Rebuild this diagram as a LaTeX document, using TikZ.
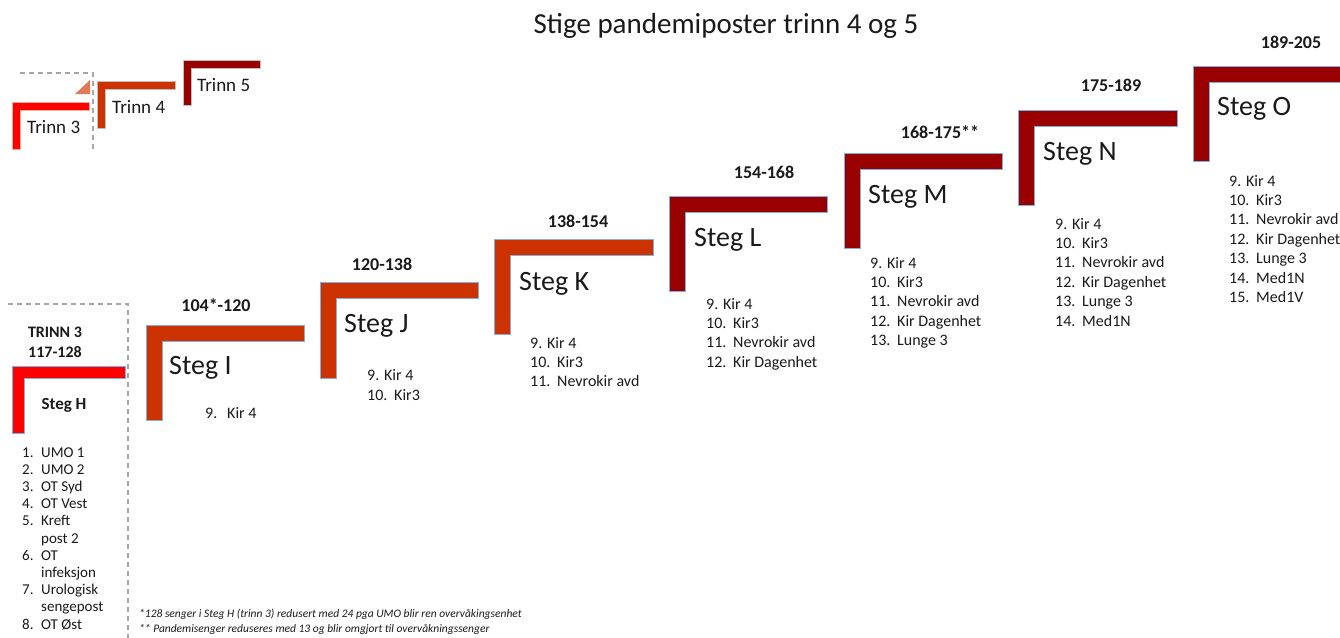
\documentclass[tikz,border=0pt]{standalone}
\usepackage{fontspec}
\setmainfont{Carlito}
\definecolor{stred}{HTML}{FF0000}
\definecolor{storange}{HTML}{CC3300}
\definecolor{stdark}{HTML}{990000}
\definecolor{edgeblue}{HTML}{7DB0E0}
\definecolor{dashgray}{HTML}{A6A6A6}
\definecolor{salmon}{HTML}{E07B54}
\definecolor{txt}{HTML}{1A1A1A}
\newcommand\drawsteg[7]{% x y w h t fill draw
  \draw[stepshape={#6}{#7}] (#1,#2) -- ++(#3,0) -- ++(0,#5) -- ++({-(#3)+(#5)},0) -- ++(0,{(#4)-(#5)}) -- ++({-(#5)},0) -- cycle;}
\newcommand\nnum[1]{\makebox[27pt][l]{#1}}
\begin{document}
\begin{tikzpicture}[x=1pt,y=-1pt,
  stepshape/.style 2 args={fill=#1, draw=#2, line width=0.8pt},
  dashline/.style={draw=dashgray, line width=1.2pt, dash pattern=on 5pt off 4pt},
  rng/.style={font=\fontsize{18}{21}\selectfont\bfseries, anchor=base, inner sep=0, text=txt},
  steglbl/.style={font=\fontsize{28}{32}\selectfont, anchor=base west, inner sep=0, text=txt},
  lst/.style={font=\fontsize{16}{19.4}\selectfont, anchor=base west, inner sep=0, text=txt},
  leg/.style={font=\fontsize{19}{22}\selectfont, anchor=base west, inner sep=0, text=txt}]
\useasboundingbox (0,0) rectangle (1340,637);
\fill[white] (0,0) rectangle (1340,637);

% title
\node[font=\fontsize{29}{33}\selectfont, anchor=base, inner sep=0, text=txt] (title) at (726,33) {Stige pandemiposter trinn 4 og 5};

% legend
\draw[dashline] (20,73) -- (93,73) -- (93,152);
\fill[salmon] (75,94) -- (90,94) -- (90,80) -- cycle;
\drawsteg{12}{102}{77}{47}{8}{stred}{salmon!60}
\drawsteg{97}{81}{78}{47}{8}{storange}{gray!50}
\drawsteg{183}{60}{77}{45}{8}{stdark}{gray!50}
\node[leg] (t3) at (27,133) {Trinn 3};
\node[leg] (t4) at (112,113) {Trinn 4};
\node[leg] (t5) at (197,91) {Trinn 5};

% Steg H block
\draw[dashline] (8,304) -- (128,304) -- (128,640);
\node[font=\fontsize{16}{20}\selectfont\bfseries, anchor=base, inner sep=0, text=txt] (trinn3) at (55,337)
  {\begin{tabular}[t]{@{}c@{}}TRINN 3\\117-128\end{tabular}};
\drawsteg{12}{366}{113}{67}{12}{stred}{edgeblue}
\node[font=\fontsize{17}{20}\selectfont\bfseries, anchor=base, inner sep=0, text=txt] (stegH) at (64,409) {Steg H};
\node[font=\fontsize{15}{17.2}\selectfont, anchor=base west, inner sep=0, text=txt] (listH) at (22,457)
  {\begin{tabular}[t]{@{}p{19pt}@{}l@{}}
   1. & UMO 1\\ 2. & UMO 2\\ 3. & OT Syd\\ 4. & OT Vest\\ 5. & Kreft\\ & post 2\\
   6. & OT\\ & infeksjon\\ 7. & Urologisk\\ & sengepost\\ 8. & OT Øst
   \end{tabular}};

% Steg I
\drawsteg{146}{325}{158}{95}{16}{storange}{edgeblue}
\node[rng] (rI) at (216,311) {104*-120};
\node[steglbl] (sI) at (169,374) {Steg I};
\node[lst] (lI) at (205,418) {\makebox[22pt][l]{9.}Kir 4};

% Steg J
\drawsteg{320}{282}{158}{96}{16}{storange}{edgeblue}
\node[rng] (rJ) at (382,270) {120-138};
\node[steglbl] (sJ) at (344,332) {Steg J};
\node[lst] (lJ) at (367,380) {\begin{tabular}[t]{@{}l@{}}9. Kir 4\\[0.6pt] \nnum{10.}Kir3\end{tabular}};

% Steg K
\drawsteg{494}{239}{159}{95}{16}{storange}{edgeblue}
\node[rng] (rK) at (578,227) {138-154};
\node[steglbl] (sK) at (519,290) {Steg K};
\node[lst] (lK) at (530,348) {\begin{tabular}[t]{@{}l@{}}9. Kir 4\\ \nnum{10.}Kir3\\ \nnum{11.}Nevrokir avd\end{tabular}};

% Steg L
\drawsteg{669}{196}{158}{95}{16}{stdark}{edgeblue}
\node[rng] (rL) at (764,178) {154-168};
\node[steglbl] (sL) at (694,246) {Steg L};
\node[lst] (lL) at (706,309) {\begin{tabular}[t]{@{}l@{}}9. Kir 4\\ \nnum{10.}Kir3\\ \nnum{11.}Nevrokir avd\\ \nnum{12.}Kir Dagenhet\end{tabular}};

% Steg M
\drawsteg{844}{153}{158}{95}{16}{stdark}{edgeblue}
\node[rng] (rM) at (940,138) {168-175**};
\node[steglbl] (sM) at (868,203) {Steg M};
\node[lst] (lM) at (870,268) {\begin{tabular}[t]{@{}l@{}}9. Kir 4\\ \nnum{10.}Kir3\\ \nnum{11.}Nevrokir avd\\ \nnum{12.}Kir Dagenhet\\ \nnum{13.}Lunge 3\end{tabular}};

% Steg N
\drawsteg{1018}{110}{159}{95}{16}{stdark}{edgeblue}
\node[rng] (rN) at (1111,91) {175-189};
\node[steglbl] (sN) at (1043,160) {Steg N};
\node[lst] (lN) at (1055,229) {\begin{tabular}[t]{@{}l@{}}9. Kir 4\\ \nnum{10.}Kir3\\ \nnum{11.}Nevrokir avd\\ \nnum{12.}Kir Dagenhet\\ \nnum{13.}Lunge 3\\ \nnum{14.}Med1N\end{tabular}};

% Steg O
\drawsteg{1193}{66}{155}{95}{16}{stdark}{edgeblue}
\node[rng] (rO) at (1291,48) {189-205};
\node[steglbl] (sO) at (1217,115) {Steg O};
\node[lst] (lO) at (1229,186) {\begin{tabular}[t]{@{}l@{}}9. Kir 4\\ \nnum{10.}Kir3\\ \nnum{11.}Nevrokir avd\\ \nnum{12.}Kir Dagenhet\\ \nnum{13.}Lunge 3\\ \nnum{14.}Med1N\\ \nnum{15.}Med1V\end{tabular}};

% footnotes
\node[font=\fontsize{11.5}{15.5}\selectfont\itshape, anchor=base west, inner sep=0, text=txt] (fn) at (139,617)
  {\begin{tabular}[t]{@{}l@{}}*128 senger i Steg H (trinn 3) redusert med 24 pga UMO blir ren overvåkingsenhet\\ \relax
   ** Pandemisenger reduseres med 13 og blir omgjort til overvåkningssenger\end{tabular}};
\end{tikzpicture}
\end{document}
